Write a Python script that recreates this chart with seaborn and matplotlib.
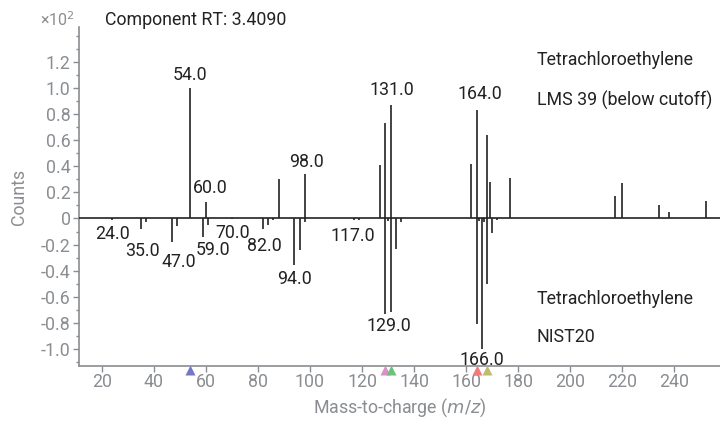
import numpy as np
import pandas as pd
import matplotlib
matplotlib.use("Agg")
import matplotlib.pyplot as plt
import matplotlib.transforms as mtransforms
from matplotlib.ticker import MultipleLocator, FixedLocator, FuncFormatter, NullLocator
import seaborn as sns

# ---------------- data (counts x 10^2) ----------------
lib_mz = [54, 60, 88, 98, 127, 129, 131, 162, 164, 168, 169, 177, 217, 220, 234, 238, 252]
lib_val = [1.00, 0.13, 0.30, 0.34, 0.41, 0.73, 0.87, 0.42, 0.83, 0.64, 0.28, 0.31, 0.17, 0.27, 0.105, 0.05, 0.135]

nist_mz = [24, 35, 37, 47, 49, 59, 61, 70, 82, 84, 86, 94, 96, 98, 117, 119,
           129, 130, 131, 133, 135, 164, 165, 166, 167, 168, 170, 172]
nist_val = [-0.01, -0.08, -0.03, -0.18, -0.06, -0.14, -0.05, -0.005, -0.08, -0.05, -0.015,
            -0.36, -0.24, -0.03, -0.01, -0.01,
            -0.73, -0.02, -0.72, -0.23, -0.03, -0.81, -0.02, -1.00, -0.03, -0.50, -0.11, -0.01]

top_labels = [54, 60, 98, 131, 164]
bottom_labels = [24, 35, 47, 59, 70, 82, 94, 117, 129, 166]

marker_mz = [54, 129, 131, 164, 168]
marker_colors = ["#7377c6", "#d890c8", "#6cc27c", "#f27c7c", "#bdbd6e"]

title = "Component RT: 3.4090"
top_name = ["Tetrachloroethylene", "LMS 39 (below cutoff)"]
bottom_name = ["Tetrachloroethylene", "NIST20"]

# ---------------- style ----------------
sns.set_theme(style="ticks")
plt.rcParams["font.family"] = ["Roboto", "DejaVu Sans"]
plt.rcParams["axes.unicode_minus"] = False

GRAY = "#8a8d91"
DARK = "#222222"
FS = 12.8

fig = plt.figure(figsize=(7.2, 4.21), dpi=100)
ax = fig.add_axes([79 / 720, 1 - 366 / 421, 1 - 79 / 720, (366 - 27) / 421])

lib = pd.DataFrame({"mz": lib_mz, "val": lib_val})
nist = pd.DataFrame({"mz": nist_mz, "val": nist_val})

ax.vlines(lib["mz"], 0, lib["val"], color=DARK, lw=1.2)
ax.vlines(nist["mz"], 0, nist["val"], color=DARK, lw=1.2)
ax.axhline(0, color=DARK, lw=1.2, zorder=3)

ax.set_xlim(11.3, 257.5)
ax.set_ylim(-1.13, 1.467)

# peak labels
top_off = {54: (0, 13), 60: (4, 14), 98: (2, 12), 131: (1, 15), 164: (3, 16)}
bot_off = {24: (0, 14), 35: (2, 22), 47: (7, 20), 59: (10, 13), 70: (1, 14),
           82: (1, 17), 94: (0, 14), 117: (-1, 16), 129: (3, 12), 166: (0, 11)}
for m in top_labels:
    v = lib.loc[lib.mz == m, "val"].iloc[0]
    dx, dy = top_off[m]
    ax.annotate(f"{m:.1f}", (m, v), xytext=(dx, dy), textcoords="offset pixels",
                ha="center", va="center", fontsize=FS, color=DARK)
for m in bottom_labels:
    v = nist.loc[nist.mz == m, "val"].iloc[0]
    dx, dy = bot_off[m]
    ax.annotate(f"{m:.1f}", (m, v), xytext=(dx, -dy), textcoords="offset pixels",
                ha="center", va="center", fontsize=FS, color=DARK, zorder=5)

# markers on the x-axis
mk_tr = mtransforms.offset_copy(ax.get_xaxis_transform(), fig=fig, y=-3.5, units="dots")
for m, c in zip(marker_mz, marker_colors):
    ax.plot([m], [0], transform=mk_tr, marker="^", ms=7,
            color=c, mec="none", clip_on=False, zorder=6)

# ticks
ax.xaxis.set_major_locator(FixedLocator(np.arange(20, 241, 20)))
ax.xaxis.set_minor_locator(NullLocator())
ax.yaxis.set_major_locator(FixedLocator(np.round(np.arange(-1.0, 1.21, 0.2), 1)))
ax.yaxis.set_minor_locator(MultipleLocator(0.1))
ax.yaxis.set_major_formatter(FuncFormatter(lambda v, p: "0" if abs(v) < 1e-9 else f"{v:.1f}"))
ax.tick_params(axis="both", which="major", length=4, width=1, color=GRAY, labelcolor=GRAY,
               labelsize=FS, pad=2)
ax.tick_params(axis="x", which="major", pad=1)
ax.tick_params(axis="y", which="minor", length=2.5, width=1, color=GRAY)

for s in ["top", "right"]:
    ax.spines[s].set_visible(False)
for s in ["left", "bottom"]:
    ax.spines[s].set_color(GRAY)
    ax.spines[s].set_linewidth(1.2)

ax.set_xlabel("Mass-to-charge ($\\it{m/z}$)", fontsize=FS, color=GRAY, labelpad=4)
ax.set_ylabel("Counts", fontsize=FS, color=GRAY, labelpad=9)

fig.text(40 / 720, 1 - 20 / 421, "×10$^2$", fontsize=11.5, color=GRAY, ha="left", va="center")
fig.text(105 / 720, 1 - 20 / 421, title, fontsize=FS, color=DARK, ha="left", va="center")

for t, y in zip(top_name, [60, 100]):
    fig.text(537 / 720, 1 - y / 421, t, fontsize=FS, color=DARK, ha="left", va="center")
for t, y in zip(bottom_name, [299, 337]):
    fig.text(537 / 720, 1 - y / 421, t, fontsize=FS, color=DARK, ha="left", va="center")

fig.savefig("out.png", dpi=100)
